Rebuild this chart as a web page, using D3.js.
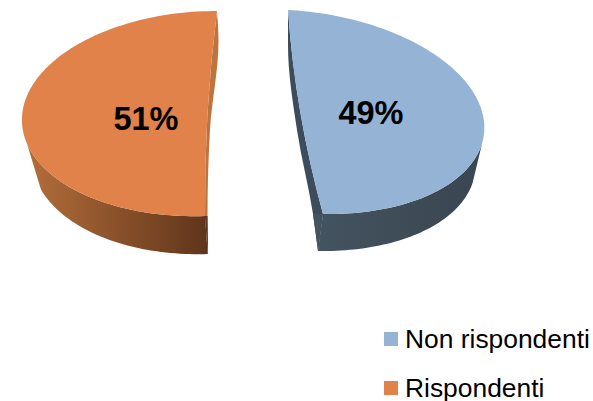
<!DOCTYPE html>
<html><head><meta charset="utf-8">
<script src="https://cdn.jsdelivr.net/npm/d3@7"></script>
<style>html,body{margin:0;padding:0;background:#fff;overflow:hidden}svg{display:block}
text{font-family:"Liberation Sans",Arial,sans-serif;fill:#000}</style></head>
<body><svg id="c" width="593" height="401"></svg>
<script>
const categories = ["Non rispondenti", "Rispondenti"];
const values = [49, 51];
const topColors = ["#95B3D5", "#E0824A"];
const stripColors = ["#3C4C5C", "#BD7540"];
const sideStops = [["#43535F", "#3A4651"], ["#B56E3A", "#5F351B"]];

// Perspective geometry of each exploded slice (top-face chord ends, bulge, extrusion)
const geometry = [
  {p0:[288,10], p1:[323,214], bulge:[178,6],  depth:[-5,37], inner:[295,112], shrink:0.98, rimY:138, lowY:183,
   strip:[[288,10],[288,45],[297,130],[313,214],[318,251]], lab:0.368, labDy:-1, gx:[320,480]},
  {p0:[217,11], p1:[205,216], bulge:[-189,3], depth:[3,38],  inner:[204,113], shrink:0.96, rimY:143, lowY:187,
   strip:[[217,11],[218.5,41],[210,130],[207.5,216],[208,254]], lab:0.344, labDy:4, gx:[25,208]}
];

const svg = d3.select("#c");
const defs = svg.append("defs");
const pie = d3.pie().sort(null);
const slices = pie(values);
const lin = d3.line();
const curved = d3.line().curve(d3.curveMonotoneY);

slices.forEach((s, i) => {
  const g = geometry[i];
  const h = (s.endAngle - s.startAngle) / 2;
  const mid = [(g.p0[0]+g.p1[0])/2, (g.p0[1]+g.p1[1])/2];
  const A = [(g.p1[0]-g.p0[0])/2, (g.p1[1]-g.p0[1])/2];
  const kb = 1/(1-Math.cos(h)), ka = 1/Math.sin(h);
  const b = [g.bulge[0]*kb, g.bulge[1]*kb], a = [A[0]*ka, A[1]*ka];
  const c = [mid[0]-b[0]*Math.cos(h), mid[1]-b[1]*Math.cos(h)];
  const thetas = d3.range(0, 121).map(k => -h + 2*h*k/120);
  const arcPts = thetas.map(t => [c[0]+b[0]*Math.cos(t)+a[0]*Math.sin(t), c[1]+b[1]*Math.cos(t)+a[1]*Math.sin(t)]);
  const lower = thetas.map(t => [c[0]+g.shrink*b[0]*Math.cos(t)+a[0]*Math.sin(t)+g.depth[0], c[1]+g.shrink*b[1]*Math.cos(t)+a[1]*Math.sin(t)+g.depth[1]]);

  const gid = "side"+i;
  const lg = defs.append("linearGradient").attr("id",gid).attr("gradientUnits","userSpaceOnUse")
    .attr("x1",g.gx[0]).attr("x2",g.gx[1]).attr("y1",0).attr("y2",0);
  lg.append("stop").attr("offset",0).attr("stop-color",sideStops[i][0]);
  lg.append("stop").attr("offset",1).attr("stop-color",sideStops[i][1]);

  const qBack = "Q"+g.inner[0]+","+g.inner[1]+" "+g.p0[0]+","+g.p0[1];
  // inner cut wall
  svg.append("path").attr("d", curved(g.strip)+"L"+g.p1[0]+","+g.p1[1]+qBack+"Z").attr("fill",stripColors[i]);
  // outer wall: from the silhouette tangent on the rim down to the lower rim
  const n = g.strip.length;
  const ks = arcPts.findIndex(p => p[1] >= g.rimY);
  const kl = lower.findIndex(p => p[1] >= g.lowY);
  const band = arcPts.slice(ks).concat(lower.slice(kl).reverse());
  svg.append("path").attr("d", lin(band)+"Z").attr("fill","url(#"+gid+")");
  svg.append("path").attr("d", lin([g.p1,g.strip[n-2],g.strip[n-1],lower[120]])+"Z").attr("fill","url(#"+gid+")");
  // top face
  const q = "M"+g.p1[0]+","+g.p1[1]+qBack;
  svg.append("path").attr("d", q+lin(arcPts).replace(/^M/,"L")+"Z").attr("fill",topColors[i]);
  // label
  svg.append("text").attr("x",mid[0]+g.bulge[0]*g.lab).attr("y",mid[1]+g.bulge[1]*g.lab+g.labDy)
    .attr("text-anchor","middle").attr("dominant-baseline","central")
    .attr("font-size",32.5).attr("font-weight","bold").text(d3.format("d")(s.data)+"%");
});

const ly = d3.scalePoint().domain(categories).range([339,388]);
categories.forEach((n,i)=>{
  svg.append("rect").attr("x",384).attr("y",ly(n)-7).attr("width",14).attr("height",14).attr("fill",topColors[i]);
  svg.append("text").attr("x",405).attr("y",ly(n)+8.5).attr("font-size",26.4).text(n);
});
</script></body></html>
